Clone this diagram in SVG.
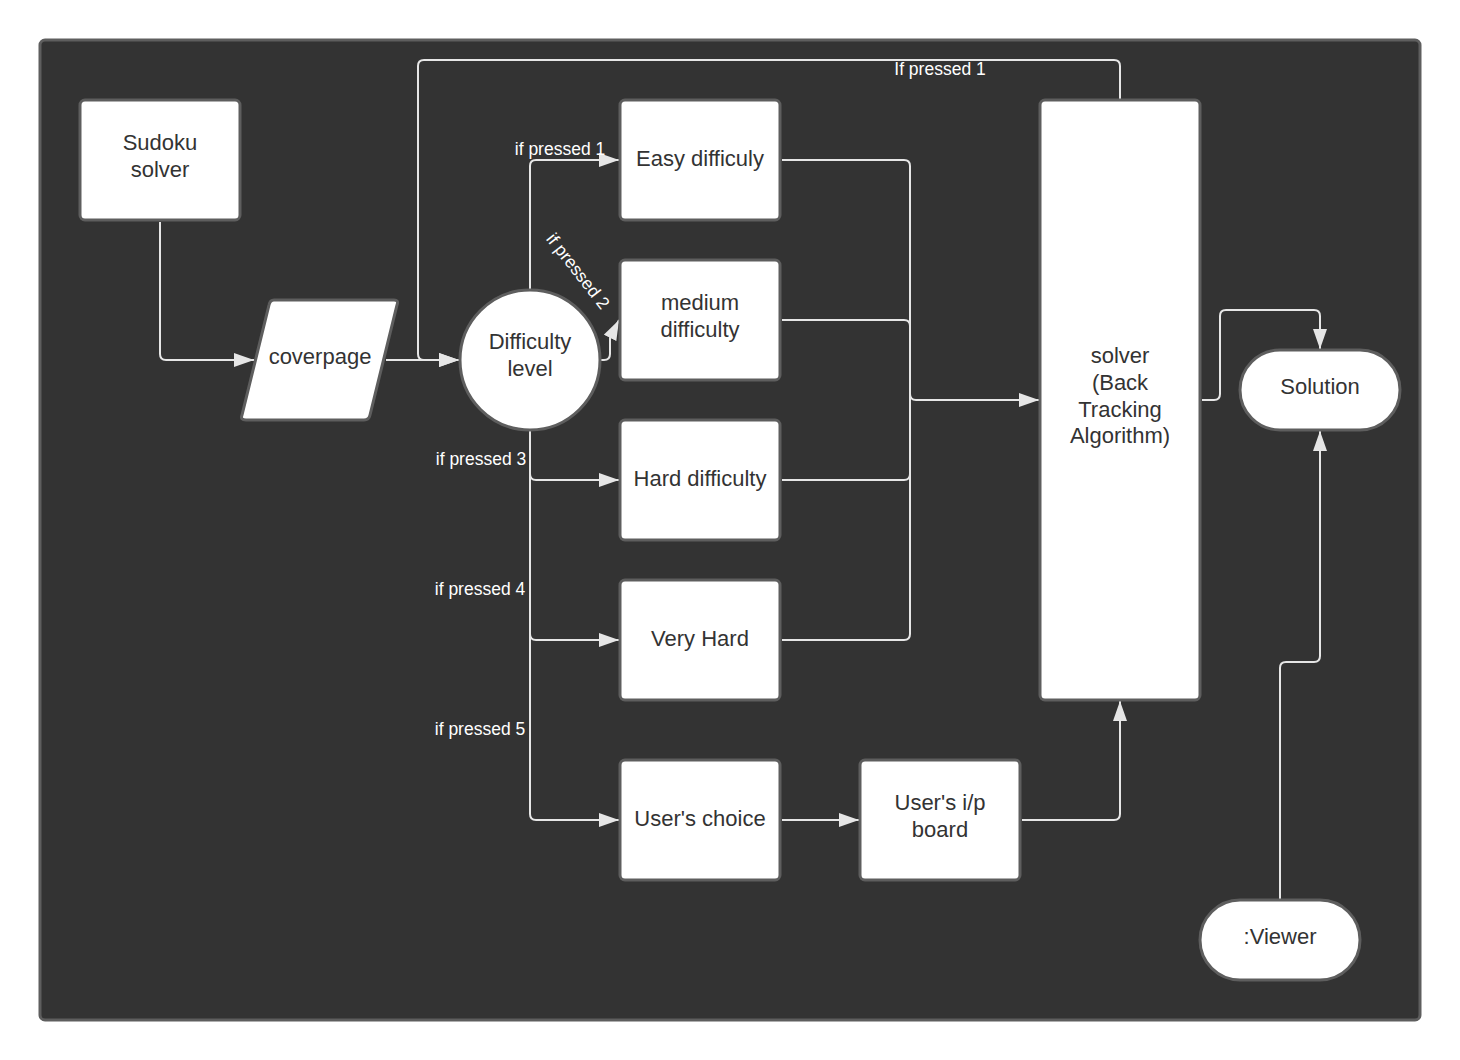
<svg xmlns="http://www.w3.org/2000/svg" width="1460" height="1060" viewBox="0 0 1460 1060">
<defs>
  <marker id="arr" viewBox="0 0 20 14" refX="20" refY="7" markerWidth="20" markerHeight="14" markerUnits="userSpaceOnUse" orient="auto">
    <path d="M0,0 L20,7 L0,14 Z" fill="#e6e6e6"/>
  </marker>
  <style>
    .node{fill:#ffffff;stroke:#5e5e5e;stroke-width:3}
    .t{font-family:"Liberation Sans",Arial,sans-serif;font-size:22px;fill:#333333;text-anchor:middle}
    .lbl{font-family:"Liberation Sans",Arial,sans-serif;font-size:17.5px;fill:#ffffff}
    .c{fill:none;stroke:#e6e6e6;stroke-width:2;stroke-linejoin:round}
  </style>
</defs>
<rect x="0" y="0" width="1460" height="1060" fill="#ffffff"/>
<rect x="40" y="40" width="1380" height="980" rx="5" fill="#333333" stroke="#5e5e5e" stroke-width="3"/>

<g id="connectors">
  <path class="c" d="M160,222 V354 Q160,360 166,360 H254" marker-end="url(#arr)"/>
  <path class="c" d="M386,360 H459" marker-end="url(#arr)"/>
  <path class="c" d="M1120,99 V66 Q1120,60 1114,60 H424 Q418,60 418,66 V354 Q418,360 424,360 H459" marker-end="url(#arr)"/>
  <path class="c" d="M530,289 V166 Q530,160 536,160 H619" marker-end="url(#arr)"/>
  <path class="c" d="M600,360 H604 Q610,360 610,354 V338 L619,320" marker-end="url(#arr)"/>
  <path class="c" d="M530,431 V814 Q530,820 536,820 H619" marker-end="url(#arr)"/>
  <path class="c" d="M530,474 Q530,480 536,480 H619" marker-end="url(#arr)"/>
  <path class="c" d="M530,634 Q530,640 536,640 H619" marker-end="url(#arr)"/>
  <path class="c" d="M782,160 H904 Q910,160 910,166 V634 Q910,640 904,640 H782"/>
  <path class="c" d="M782,320 H904 Q910,320 910,326"/>
  <path class="c" d="M782,480 H904 Q910,480 910,474"/>
  <path class="c" d="M910,394 Q910,400 916,400 H1039" marker-end="url(#arr)"/>
  <path class="c" d="M782,820 H859" marker-end="url(#arr)"/>
  <path class="c" d="M1022,820 H1114 Q1120,820 1120,814 V701" marker-end="url(#arr)"/>
  <path class="c" d="M1202,400 H1214 Q1220,400 1220,394 V316 Q1220,310 1226,310 H1314 Q1320,310 1320,316 V349" marker-end="url(#arr)"/>
  <path class="c" d="M1280,899 V668 Q1280,662 1286,662 H1314 Q1320,662 1320,656 V431" marker-end="url(#arr)"/>
  <text class="lbl" x="940" y="75" text-anchor="middle">If pressed 1</text>
  <text class="lbl" x="560" y="155" text-anchor="middle">if pressed 1</text>
  <text class="lbl" x="578" y="277" text-anchor="middle" transform="rotate(52 578 271)">if pressed 2</text>
  <text class="lbl" x="481" y="465" text-anchor="middle">if pressed 3</text>
  <text class="lbl" x="480" y="595" text-anchor="middle">if pressed 4</text>
  <text class="lbl" x="480" y="735" text-anchor="middle">if pressed 5</text>
</g>

<g id="sudoku-solver">
  <rect class="node" x="80" y="100" width="160" height="120" rx="5"/>
  <text class="t" x="160" y="150">Sudoku</text>
  <text class="t" x="160" y="177">solver</text>
</g>
<g id="coverpage">
  <path class="node" d="M274,300 H394 Q399,300 397,305 L370,415 Q369,420 364,420 H246 Q240,420 242,415 L269,305 Q270,300 274,300 Z"/>
  <text class="t" x="320" y="364">coverpage</text>
</g>
<g id="difficulty-level">
  <circle class="node" cx="530" cy="360" r="70"/>
  <text class="t" x="530" y="349">Difficulty</text>
  <text class="t" x="530" y="376">level</text>
</g>
<g id="easy">
  <rect class="node" x="620" y="100" width="160" height="120" rx="5"/>
  <text class="t" x="700" y="166">Easy difficuly</text>
</g>
<g id="medium">
  <rect class="node" x="620" y="260" width="160" height="120" rx="5"/>
  <text class="t" x="700" y="310">medium</text>
  <text class="t" x="700" y="337">difficulty</text>
</g>
<g id="hard">
  <rect class="node" x="620" y="420" width="160" height="120" rx="5"/>
  <text class="t" x="700" y="486">Hard difficulty</text>
</g>
<g id="very-hard">
  <rect class="node" x="620" y="580" width="160" height="120" rx="5"/>
  <text class="t" x="700" y="646">Very Hard</text>
</g>
<g id="users-choice">
  <rect class="node" x="620" y="760" width="160" height="120" rx="5"/>
  <text class="t" x="700" y="826">User's choice</text>
</g>
<g id="users-board">
  <rect class="node" x="860" y="760" width="160" height="120" rx="5"/>
  <text class="t" x="940" y="810">User's i/p</text>
  <text class="t" x="940" y="837">board</text>
</g>
<g id="solver">
  <rect class="node" x="1040" y="100" width="160" height="600" rx="5"/>
  <text class="t" x="1120" y="363">solver</text>
  <text class="t" x="1120" y="390">(Back</text>
  <text class="t" x="1120" y="417">Tracking</text>
  <text class="t" x="1120" y="443">Algorithm)</text>
</g>
<g id="solution">
  <rect class="node" x="1240" y="350" width="160" height="80" rx="40"/>
  <text class="t" x="1320" y="394">Solution</text>
</g>
<g id="viewer">
  <rect class="node" x="1200" y="900" width="160" height="80" rx="40"/>
  <text class="t" x="1280" y="944">:Viewer</text>
</g>
</svg>
